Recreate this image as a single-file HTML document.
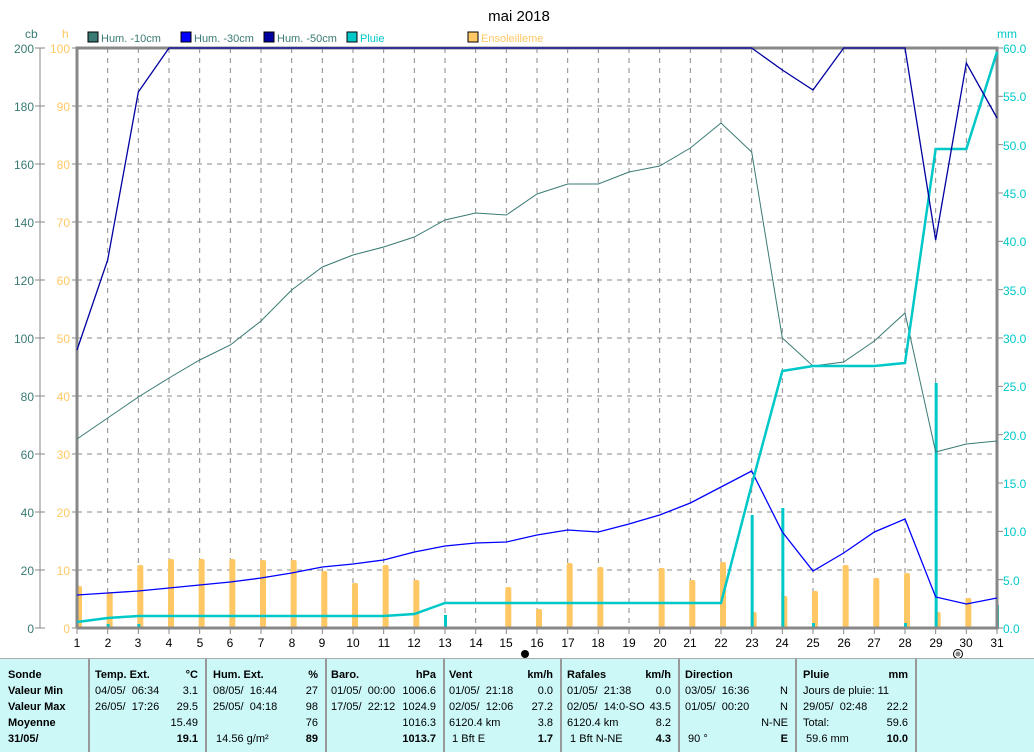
<!DOCTYPE html>
<html><head><meta charset="utf-8"><style>
body{margin:0;width:1034px;height:751px;background:#fff;overflow:hidden;font-family:"Liberation Sans",sans-serif;position:relative}
svg{position:absolute;left:0;top:0}
#tbl{position:absolute;left:0;top:658px;width:1034px;height:93px;background:#ccf8f8;border-top:1px solid #aaa;font-size:11px}
.c{position:absolute;top:0;height:93px;border-left:2px solid #999}
.r{position:absolute;white-space:nowrap;line-height:16px}
b{font-weight:bold}
</style></head><body>
<svg width="1034" height="658" font-family="Liberation Sans, sans-serif" font-size="12">
<text x="519" y="21" text-anchor="middle" font-size="15">mai 2018</text>
<text x="25" y="38" fill="#3a7a74">cb</text>
<text x="62" y="38" fill="#ffc864">h</text>
<text x="997" y="38" fill="#00c8c8">mm</text>
<g font-size="11">
<rect x="88" y="32" width="10" height="10" fill="#3a7a74" stroke="#000"/><text x="101" y="42" fill="#3a7a74">Hum. -10cm</text>
<rect x="181" y="32" width="10" height="10" fill="#0000ff" stroke="#000"/><text x="194" y="42" fill="#3a7a74">Hum. -30cm</text>
<rect x="264" y="32" width="10" height="10" fill="#0000a0" stroke="#000"/><text x="277" y="42" fill="#3a7a74">Hum. -50cm</text>
<rect x="347" y="32" width="10" height="10" fill="#00c8c8" stroke="#000"/><text x="360" y="42" fill="#00c8c8">Pluie</text>
<rect x="468" y="32" width="10" height="10" fill="#ffc864" stroke="#000"/><text x="481" y="42" fill="#ffc864">Ensoleilleme</text>
</g>
<g id="grid" stroke="#888" stroke-dasharray="5,5" stroke-width="1"></g>
<g id="bars"></g>
<line x1="40" y1="48" x2="40" y2="628" stroke="#888"/>
<g stroke="#888" stroke-width="3" fill="none"><polyline points="77,628 77,48 997,48 997,628 77,628"/></g>
<g id="lines" fill="none"></g>
<g id="ticks" stroke="#888"></g>
<g fill="#3a7a74" text-anchor="end">
<text x="34" y="53">200</text><text x="34" y="111">180</text><text x="34" y="169">160</text><text x="34" y="227">140</text><text x="34" y="285">120</text><text x="34" y="343">100</text><text x="34" y="401">80</text><text x="34" y="459">60</text><text x="34" y="517">40</text><text x="34" y="575">20</text><text x="34" y="633">0</text></g>
<g fill="#ffc864" text-anchor="end">
<text x="70" y="53">100</text><text x="70" y="111">90</text><text x="70" y="169">80</text><text x="70" y="227">70</text><text x="70" y="285">60</text><text x="70" y="343">50</text><text x="70" y="401">40</text><text x="70" y="459">30</text><text x="70" y="517">20</text><text x="70" y="575">10</text><text x="70" y="633">0</text></g>
<g fill="#00c8c8">
<text x="1003" y="53">60.0</text><text x="1003" y="101">55.0</text><text x="1003" y="150">50.0</text><text x="1003" y="198">45.0</text><text x="1003" y="246">40.0</text><text x="1003" y="295">35.0</text><text x="1003" y="343">30.0</text><text x="1003" y="391">25.0</text><text x="1003" y="440">20.0</text><text x="1003" y="488">15.0</text><text x="1003" y="536">10.0</text><text x="1003" y="585">5.0</text><text x="1003" y="633">0.0</text></g>
<g text-anchor="middle">
<text x="77" y="647">1</text><text x="108" y="647">2</text><text x="138" y="647">3</text><text x="169" y="647">4</text><text x="200" y="647">5</text><text x="230" y="647">6</text><text x="261" y="647">7</text><text x="292" y="647">8</text><text x="322" y="647">9</text><text x="353" y="647">10</text><text x="384" y="647">11</text><text x="414" y="647">12</text><text x="445" y="647">13</text><text x="476" y="647">14</text><text x="506" y="647">15</text><text x="537" y="647">16</text><text x="568" y="647">17</text><text x="598" y="647">18</text><text x="629" y="647">19</text><text x="660" y="647">20</text><text x="690" y="647">21</text><text x="721" y="647">22</text><text x="752" y="647">23</text><text x="782" y="647">24</text><text x="813" y="647">25</text><text x="844" y="647">26</text><text x="874" y="647">27</text><text x="905" y="647">28</text><text x="936" y="647">29</text><text x="966" y="647">30</text><text x="997" y="647">31</text></g>
<circle cx="525" cy="654" r="4" fill="#000"/>
<circle cx="958" cy="654" r="4.5" fill="#fff" stroke="#000"/><circle cx="958" cy="654" r="2.5" fill="#888"/>
</svg>
<div id="tbl">
<div class="c" style="left:88px"></div><div class="c" style="left:205px"></div><div class="c" style="left:325px"></div><div class="c" style="left:443px"></div><div class="c" style="left:560px"></div><div class="c" style="left:678px"></div><div class="c" style="left:795px"></div><div class="c" style="left:915px"></div>
<div class="r" style="left:8px;top:8px"><b>Sonde<br>Valeur Min<br>Valeur Max<br>Moyenne<br>31/05/</b></div>
<div class="r" style="left:95px;top:8px"><b>Temp. Ext.</b><br>04/05/&nbsp; 06:34<br>26/05/&nbsp; 17:26</div>
<div class="r" style="left:160px;top:8px;width:38px;text-align:right"><b>°C</b><br>3.1<br>29.5<br>15.49<br><b>19.1</b></div>
<div class="r" style="left:213px;top:8px"><b>Hum. Ext.</b><br>08/05/&nbsp; 16:44<br>25/05/&nbsp; 04:18<br><br>&nbsp;14.56 g/m²</div>
<div class="r" style="left:280px;top:8px;width:38px;text-align:right"><b>%</b><br>27<br>98<br>76<br><b>89</b></div>
<div class="r" style="left:331px;top:8px"><b>Baro.</b><br>01/05/&nbsp; 00:00<br>17/05/&nbsp; 22:12</div>
<div class="r" style="left:380px;top:8px;width:56px;text-align:right"><b>hPa</b><br>1006.6<br>1024.9<br>1016.3<br><b>1013.7</b></div>
<div class="r" style="left:449px;top:8px"><b>Vent</b><br>01/05/&nbsp; 21:18<br>02/05/&nbsp; 12:06<br>6120.4 km<br>&nbsp;1 Bft E</div>
<div class="r" style="left:515px;top:8px;width:38px;text-align:right"><b>km/h</b><br>0.0<br>27.2<br>3.8<br><b>1.7</b></div>
<div class="r" style="left:567px;top:8px"><b>Rafales</b><br>01/05/&nbsp; 21:38<br>02/05/&nbsp; 14:0-SO<br>6120.4 km<br>&nbsp;1 Bft N-NE</div>
<div class="r" style="left:633px;top:8px;width:38px;text-align:right"><b>km/h</b><br>0.0<br>43.5<br>8.2<br><b>4.3</b></div>
<div class="r" style="left:685px;top:8px"><b>Direction</b><br>03/05/&nbsp; 16:36<br>01/05/&nbsp; 00:20<br><br>&nbsp;90 °</div>
<div class="r" style="left:740px;top:8px;width:48px;text-align:right"><br>N<br>N<br>N-NE<br><b>E</b></div>
<div class="r" style="left:803px;top:8px"><b>Pluie</b><br>Jours de pluie: 11<br>29/05/&nbsp; 02:48<br>Total:<br>&nbsp;59.6 mm</div>
<div class="r" style="left:860px;top:8px;width:48px;text-align:right"><b>mm</b><br><br>22.2<br>59.6<br><b>10.0</b></div>
</div>
<script>
var X=function(d){return 77+(d-1)*920/30};
var g='';
for(var d=2;d<=30;d++)g+='<line x1="'+X(d)+'" y1="48" x2="'+X(d)+'" y2="628"/>';
for(var v=20;v<200;v+=20){var y=628-v*2.9;g+='<line x1="77" y1="'+y+'" x2="997" y2="'+y+'"/>';}
document.getElementById('grid').innerHTML=g;
var t='';for(var v=0;v<=200;v+=20){var y=628-v*2.9;t+='<line x1="35" y1="'+y+'" x2="45" y2="'+y+'"/><line x1="72" y1="'+y+'" x2="77" y2="'+y+'"/>';}
for(var v=0;v<=60;v+=5){var y=628-v*580/60;t+='<line x1="997" y1="'+y+'" x2="1003" y2="'+y+'"/>';}
for(var d=1;d<=31;d++)t+='<line x1="'+X(d)+'" y1="628" x2="'+X(d)+'" y2="634"/>';
document.getElementById('ticks').innerHTML=t;
var sun=[586,592,565,559,559,559,560,560,571,583,565,580,627,628,587,609,563,567,628,568,580,562,612,596,591,565,578,573,612,598];
var b='';for(var i=0;i<sun.length;i++){var x=X(i+1);b+='<rect x="'+(x-1)+'" y="'+sun[i]+'" width="6" height="'+(628-sun[i])+'" rx="2" fill="#ffc864"/>';}
var rb=[[2,624],[3,624],[13,615],[23,515],[24,508],[25,623],[28,623],[29,383],[31,605]];
rb.forEach(function(r){b+='<rect x="'+(X(r[0])-1)+'" y="'+r[1]+'" width="3" height="'+(628-r[1])+'" fill="#00c8c8"/>';});
document.getElementById('bars').innerHTML=b;
function pl(a,c,w){var p=a.map(function(y,i){return X(i+1)+','+y}).join(' ');return '<polyline points="'+p+'" stroke="'+c+'" stroke-width="'+w+'"/>';}
var h10=[439,418,397,378,360,345,321,290,267,255,247,237,220,213,215,194,184,184,172,166,148,123,152,338,366,362,341,313,452,444,441];
var h30=[595,593,591,588,585,582,578,573,567,564,560,552,546,543,542,535,530,532,524,515,503,487,471,532,571,553,532,519,597,604,598];
var h50=[350,260,92,48,48,48,48,48,48,48,48,48,48,48,48,48,48,48,48,48,48,48,48,70,90,48,48,48,240,63,118];
var pr=[622,618,616,616,616,616,616,616,616,616,616,614,603,603,603,603,603,603,603,603,603,603,485,371,366,366,366,363,149,149,52];
document.getElementById('lines').innerHTML=pl(h10,'#3a7a74',1)+pl(h30,'#0000ff',1.3)+pl(pr,'#00c8c8',2.5)+pl(h50,'#0000a0',1.3);
</script>
</body></html>
